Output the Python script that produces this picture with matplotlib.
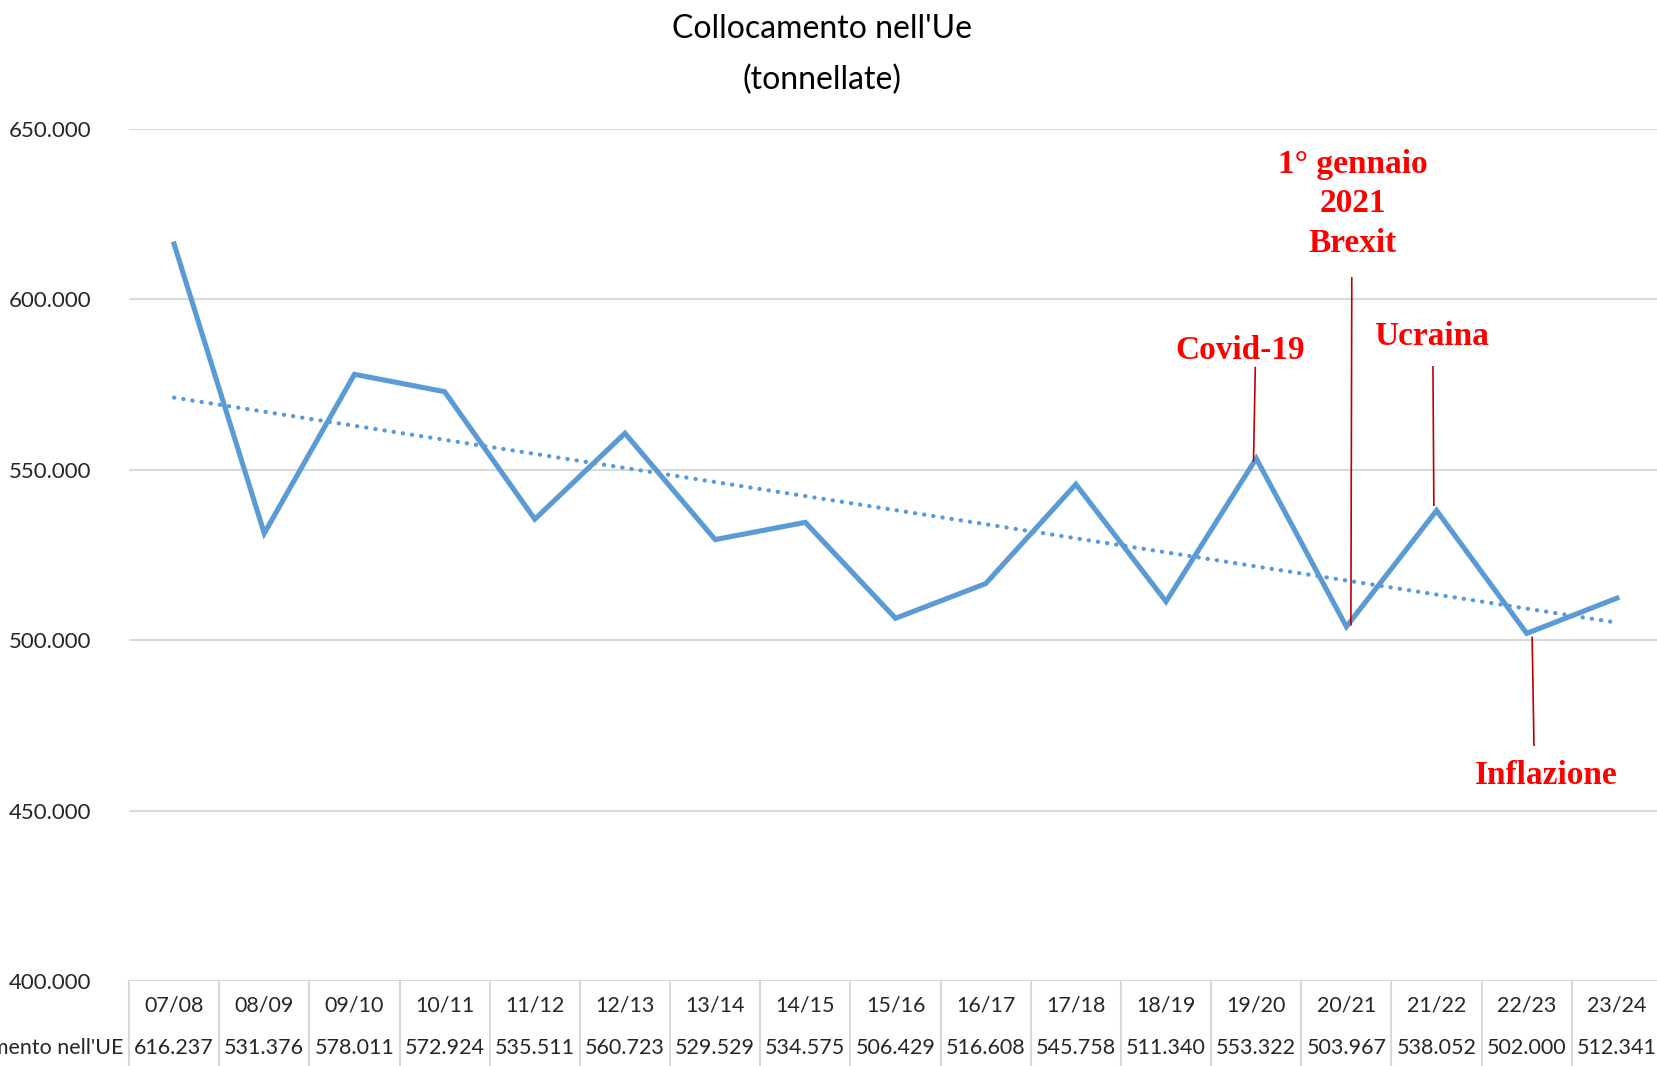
import numpy as np
import matplotlib.pyplot as plt
from matplotlib.transforms import blended_transform_factory

stagioni = ['07/08', '08/09', '09/10', '10/11', '11/12', '12/13', '13/14', '14/15', '15/16',
            '16/17', '17/18', '18/19', '19/20', '20/21', '21/22', '22/23', '23/24']
tonnellate = [616237, 531376, 578011, 572924, 535511, 560723, 529529, 534575, 506429,
              516608, 545758, 511340, 553322, 503967, 538052, 502000, 512341]
y_ticks = [400000, 450000, 500000, 550000, 600000, 650000]

# eventi: testo, posizione testo (x, y), linea (x in alto, y in alto, x in basso, y in basso)
eventi = [
    ('Covid-19', 11.82, 585000, (11.99, 580000, 11.97, 552600)),
    ('1° gennaio\n2021\nBrexit', 13.07, 628000, (13.06, 606300, 13.05, 504500)),
    ('Ucraina', 13.95, 589200, (13.96, 580200, 13.97, 539600)),
    ('Inflazione', 15.22, 460200, (15.06, 500800, 15.08, 469200)),
]

def fmt(v):
    return f'{v:,.0f}'.replace(',', '.')

blu = '#5B9BD5'
grigio = '#D9D9D9'
rosso = '#FF0000'
testo_col = '#262626'

plt.rcParams['font.family'] = ['Lato', 'DejaVu Sans']
fs = 15.5

fig = plt.figure(figsize=(16.57, 10.66), dpi=100)
ax = fig.add_axes([129/1657, 1 - 981/1066, (1662-129)/1657, (981-129)/1066])

x = np.arange(len(stagioni))
ax.plot(x, tonnellate, color=blu, lw=3.7, solid_joinstyle='miter', zorder=3)

# linea di tendenza lineare
k, q = np.polyfit(x, tonnellate, 1)
ax.plot(x, k * x + q, color=blu, lw=3.1, linestyle=(0, (0.05, 2.1)),
        dash_capstyle='round', zorder=2)

ax.set_xlim(-0.5, len(stagioni) - 0.5)
ax.set_ylim(400000, 650000)
ax.set_yticks(y_ticks)
ax.set_yticklabels([fmt(v) for v in y_ticks], fontsize=fs + 0.5, color=testo_col)
ax.set_xticks([])
ax.tick_params(axis='y', length=0, pad=27)
for s in ax.spines.values():
    s.set_visible(False)
ax.grid(axis='y', color=grigio, lw=1.5)
ax.set_axisbelow(True)

# tabella dati
tr = blended_transform_factory(ax.transData, ax.transAxes)
r1, r2, bot = -0.0285, -0.0785, -0.0998
for i in range(len(stagioni) + 1):
    ax.plot([i - 0.5, i - 0.5], [0, bot], color=grigio, lw=1.5, transform=tr, clip_on=False)
ax.plot([0, 1], [1 - 1023/1066] * 2, color=grigio, lw=1.5, transform=fig.transFigure)
for i, (s, v) in enumerate(zip(stagioni, tonnellate)):
    ax.text(i, r1, s, transform=tr, ha='center', va='center', fontsize=fs, color=testo_col)
    ax.text(i, r2, fmt(v), transform=tr, ha='center', va='center', fontsize=fs, color=testo_col)
fig.text(124/1657, 1 - 1048/1066, "Collocamento nell'UE", ha='right', va='center',
         fontsize=fs, color=testo_col)

# titolo
fig.text(822/1657, 1 - 29/1066, "Collocamento nell'Ue", ha='center', va='center',
         fontsize=23, color='black')
fig.text(822/1657, 1 - 80/1066, "(tonnellate)", ha='center', va='center',
         fontsize=23, color='black')

# annotazioni
for testo, tx, ty, (x1, y1, x2, y2) in eventi:
    ax.plot([x1, x2], [y1, y2], color='#C00000', lw=1.2, zorder=4)
    ax.text(tx, ty, testo, ha='center', va='center', color=rosso, fontsize=24,
            fontweight='bold', family=['Liberation Serif', 'DejaVu Serif'],
            linespacing=1.35, zorder=5)

fig.savefig('out.png', dpi=100)
